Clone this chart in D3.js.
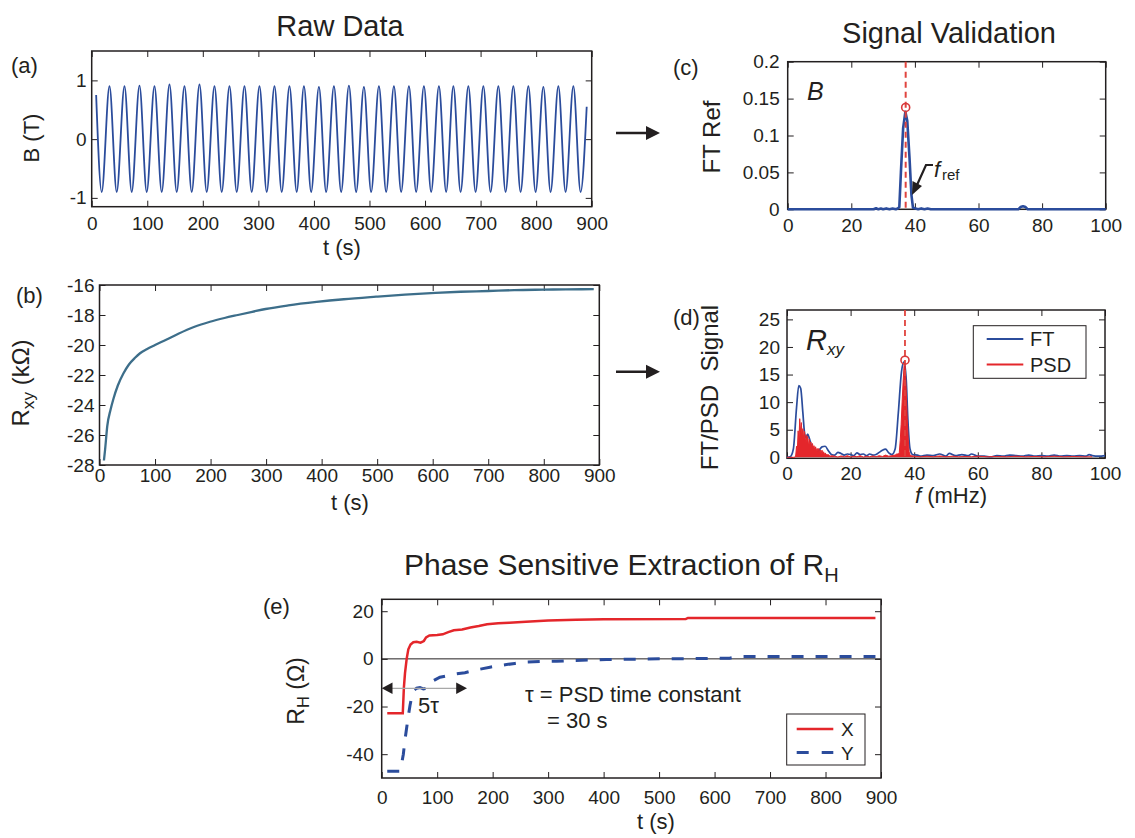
<!DOCTYPE html>
<html>
<head>
<meta charset="utf-8">
<script src="https://cdn.jsdelivr.net/npm/d3@7"></script>
<style>
  body { margin: 0; background: #fff; }
  svg text { font-family: "Liberation Sans", Arial, Helvetica, sans-serif; fill: #231f20; }
</style>
</head>
<body>
<div id="chart"></div>
<script>
// (a) B field: extrema of the reference oscillation, t (s) / B (T)
const bTime = [8, 18, 32, 45, 59, 72, 86, 99, 113, 126, 140, 153, 167, 180, 194, 207, 221, 234, 248, 261, 275,
  288, 302, 315, 329, 342, 356, 369, 382, 395, 409, 422, 436, 449, 463, 476, 490, 503, 517, 530, 544, 557, 571,
  584, 598, 611, 625, 638, 651, 664, 678, 691, 705, 718, 732, 745, 759, 772, 786, 799, 813, 826, 840, 853, 867,
  880, 891];
const bField = [0.75, -0.9, 0.9, -0.9, 0.9, -0.9, 0.91, -0.9, 0.9, -0.9, 0.93, -0.9, 0.9, -0.9, 0.93, -0.9, 0.9,
  -0.9, 0.9, -0.9, 0.9, -0.9, 0.9, -0.9, 0.9, -0.9, 0.9, -0.9, 0.9, -0.9, 0.89, -0.9, 0.9, -0.9, 0.91, -0.9, 0.89,
  -0.9, 0.9, -0.9, 0.9, -0.9, 0.9, -0.9, 0.9, -0.9, 0.9, -0.9, 0.9, -0.9, 0.9, -0.9, 0.9, -0.9, 0.9, -0.9, 0.9,
  -0.9, 0.9, -0.9, 0.89, -0.9, 0.9, -0.9, 0.9, -0.9, 0.55];

// (b) Rxy (kOhm)
const rxyTime = [8, 10, 14, 20, 25, 33, 43, 53, 64, 73, 85, 100, 120, 142, 170, 199, 225, 249, 275, 299, 340, 391,
  440, 498, 550, 605, 650, 700, 747, 800, 840, 890];
const rxyVal = [-27.7, -27.0, -25.4, -24.3, -23.6, -22.7, -21.9, -21.3, -20.85, -20.55, -20.28, -20.0, -19.65,
  -19.25, -18.8, -18.45, -18.2, -18.0, -17.79, -17.6, -17.36, -17.13, -16.95, -16.78, -16.64, -16.52, -16.45,
  -16.4, -16.34, -16.31, -16.29, -16.28];

// (c) FT of B (mHz)
const cFreq = [0, 27, 27.8, 28.5, 29.3, 30, 31, 32, 33, 34, 34.6, 35.1, 35.6, 36.3, 37.0, 37.6, 38.3, 38.9, 39.4,
  40.2, 41, 42, 43, 44, 45, 72.5, 73.2, 74, 74.8, 75.5, 100];
const cAmp = [0, 0, 0.0015, 0, 0.001, 0, 0.0012, 0, 0.001, 0, 0.001, 0.003, 0.05, 0.11, 0.132, 0.12, 0.07, 0.02,
  0.002, 0.001, 0, 0.0012, 0, 0.001, 0, 0, 0.003, 0.004, 0.003, 0, 0];
const fRef = 37.1;
const cPeak = 0.138;

// (d) FT and PSD of Rxy
const ftFreq = [0, 1, 2, 3, 3.7, 4.3, 5, 5.5, 6, 6.5, 7, 8, 9, 10, 11, 12, 13, 14, 15, 16, 17, 18, 19, 20, 21, 22,
  23, 24, 25, 26, 27, 28, 29, 30, 31, 32, 33, 34, 35, 36, 36.8, 37.5, 38, 38.7, 39.5, 41, 42, 44, 46, 48, 50, 51,
  53, 55, 57, 58, 60, 62, 64, 66, 68, 70, 72, 74, 76, 78, 80, 82, 84, 86, 88, 90, 92, 94, 95, 96, 98, 100];
const ftAmp = [0, 0.1, 1.5, 9, 13, 12.5, 8, 4.5, 3.5, 4.2, 3.5, 1.5, 1.0, 1.2, 1.9, 2.0, 1.2, 0.5, 0.4, 0.9, 0.7,
  0.4, 0.6, 0.5, 0.3, 0.8, 0.5, 0.6, 0.3, 0.6, 0.4, 0.5, 0.9, 1.3, 1.5, 0.8, 0.5, 1.5, 8, 15.5, 17.3, 14, 7, 1.5,
  0.5, 0.4, 0.2, 0.4, 0.3, 0.6, 0.2, 0.7, 0.3, 0.5, 0.3, 0.6, 0.2, 0.2, 0.1, 0.3, 0.2, 0.4, 0.3, 0.2, 0.4, 0.2, 0.3,
  0.2, 0.4, 0.2, 0.3, 0.2, 0.3, 0.2, 0.5, 0.3, 0.2, 0.3];
const psdFreq = [0, 2.5, 2.75, 3.0, 3.25, 3.5, 3.75, 4.0, 4.25, 4.5, 4.75, 5.0, 5.25, 5.5, 5.75, 6.0, 6.25, 6.5,
  6.75, 7.0, 7.25, 7.5, 7.75, 8.0, 8.25, 8.5, 8.75, 9.0, 9.25, 9.5, 9.75, 10, 10.25, 10.5, 10.75, 11, 11.25, 11.5,
  11.75, 12, 12.5, 13, 13.5, 14, 15, 16, 17, 18, 19, 20, 21, 22, 23, 24, 25, 26, 27, 28, 29, 30, 31, 32, 33, 34,
  34.5, 35, 35.3, 35.6, 35.9, 36.2, 36.5, 36.8, 37.0, 37.2, 37.5, 37.8, 38.1, 38.4, 38.7, 39, 40, 42, 44, 46, 48,
  50, 52, 54, 56, 58, 60, 63, 66, 69, 72, 75, 78, 81, 84, 87, 90, 93, 96, 100];
const psdAmp = [0, 0, 0.4, 2.0, 1.2, 4.8, 3.0, 7.0, 4.5, 6.3, 4.0, 5.2, 3.4, 4.7, 2.6, 4.1, 2.8, 3.8, 2.0, 3.3, 2.2,
  2.8, 1.6, 2.5, 1.7, 2.1, 1.2, 1.9, 1.2, 1.6, 0.9, 1.6, 1.0, 1.3, 0.7, 1.3, 0.8, 1.0, 0.5, 0.8, 0.4, 0.5, 0.2, 0.3,
  0.2, 0.05, 0.25, 0.1, 0.3, 0.05, 0.2, 0.1, 0.3, 0.05, 0.2, 0.1, 0.25, 0.1, 0.3, 0.15, 0.4, 0.2, 0.3, 0.4, 0.6,
  0.6, 0.8, 3, 6, 10, 13.5, 16.5, 17.5, 16, 12, 7, 3.5, 1, 0.4, 0.3, 0.2, 0.1, 0.2, 0.1, 0.25, 0.1, 0.2, 0.1, 0.15,
  0.1, 0.2, 0.1, 0.15, 0.1, 0.2, 0.1, 0.15, 0.1, 0.2, 0.1, 0.15, 0.1, 0.1];
const dPeak = 17.6;

// (e) phase sensitive extraction of RH (Ohm)
const xTime = [10, 38, 40, 42, 45, 48, 52, 57, 63, 70, 76, 80, 86, 100, 110, 120, 130, 145, 160, 175, 190, 210, 230,
  260, 300, 350, 400, 548, 552, 890];
const xVal = [-22.8, -22.8, -12, -6, 0, 4, 6, 7, 7.2, 6.8, 7.5, 9, 9.8, 10, 10.3, 11.2, 12, 12.3, 13.2, 13.8, 14.5,
  14.9, 15.2, 15.6, 16.1, 16.4, 16.6, 16.7, 17.2, 17.2];
const yTime = [10, 33, 36, 39, 42, 45, 48, 51, 54, 57, 63, 69, 75, 81, 87, 93, 105, 120, 135, 150, 165, 180, 195,
  210, 225, 240, 255, 285, 315, 345, 375, 405, 435, 500, 560, 627, 645, 700, 890];
const yVal = [-47.2, -47.2, -44, -40, -34, -28.9, -24, -19.6, -16, -13.4, -12.3, -12, -12.6, -12.4, -10.5, -9.2,
  -7.7, -7, -6.3, -5.8, -4.9, -4.2, -3.5, -2.9, -2.4, -1.9, -1.4, -1.1, -1.0, -0.7, -0.5, -0.3, -0.2, 0, 0.1, 0.3,
  1.0, 1.0, 1.0];

const timeTicks = [0, 100, 200, 300, 400, 500, 600, 700, 800, 900];
const freqTicks = [0, 20, 40, 60, 80, 100];

const BLUE = "#2b4c9c", RED = "#e4262b", TEAL = "#3d6e8a", INK = "#231f20";

const svg = d3.select("#chart").append("svg")
  .attr("width", 1135)
  .attr("height", 838);

// matlab style box with inward ticks on all four sides
function frame(p) {
  const g = svg.append("g");
  const x = d3.scaleLinear().domain(p.xDomain).range([p.left, p.right]);
  const y = d3.scaleLinear().domain(p.yDomain).range([p.bottom, p.top]);
  const fmt = d => String(d);
  const axes = [
    [d3.axisBottom(x).tickValues(p.xTicks).tickPadding(p.xPad).tickFormat(fmt), `translate(0,${p.bottom})`],
    [d3.axisTop(x).tickValues(p.xTicks).tickFormat(""), `translate(0,${p.top})`],
    [d3.axisLeft(y).tickValues(p.yTicks).tickPadding(p.yPad).tickFormat(p.yFmt || fmt), `translate(${p.left},0)`],
    [d3.axisRight(y).tickValues(p.yTicks).tickFormat(""), `translate(${p.right},0)`]
  ];
  axes.forEach(([ax, tr]) => {
    g.append("g")
      .attr("transform", tr)
      .call(ax.tickSize(-6))
      .call(a => a.select(".domain").remove())
      .call(a => a.selectAll(".tick line").attr("stroke", INK).attr("stroke-width", 1))
      .call(a => a.selectAll("text").attr("font-size", 19));
  });
  g.append("rect")
    .attr("x", p.left).attr("y", p.top)
    .attr("width", p.right - p.left).attr("height", p.bottom - p.top)
    .attr("fill", "none").attr("stroke", INK).attr("stroke-width", 1.5);
  return { g, x, y };
}

function text(str, x, y, size, anchor = "start", style = "normal") {
  return svg.append("text")
    .attr("x", x).attr("y", y)
    .attr("font-size", size)
    .attr("text-anchor", anchor)
    .attr("font-style", style)
    .text(str);
}

function vlabel(parts, cx, cy, size) {
  const t = svg.append("text")
    .attr("transform", `translate(${cx},${cy}) rotate(-90)`)
    .attr("text-anchor", "middle")
    .attr("dy", "0.35em")
    .attr("font-size", size)
    .style("white-space", "pre");
  parts.forEach(([s, sub]) => {
    t.append("tspan")
      .attr("font-size", sub ? size * 0.72 : size)
      .attr("dy", sub ? 5 : (t.selectAll("tspan").size() > 0 ? -5 : 0))
      .text(s);
  });
  return t;
}

function bigArrow(x0, x1, y) {
  svg.append("line").attr("x1", x0).attr("x2", x1 - 10).attr("y1", y).attr("y2", y)
    .attr("stroke", INK).attr("stroke-width", 2.6);
  svg.append("path").attr("d", `M${x1},${y} L${x1 - 14},${y - 7} L${x1 - 14},${y + 7} Z`).attr("fill", INK);
}

const zip = (a, b) => a.map((v, i) => [v, b[i]]);

// ---------- titles ----------
text("Raw Data", 340, 36, 29, "middle");
text("Signal Validation", 949, 43, 29, "middle");
const titleE = text("Phase Sensitive Extraction of R", 404, 575, 30);
titleE.append("tspan").attr("font-size", 20).attr("dy", 7).text("H");

// ---------- (a) ----------
{
  const { g, x, y } = frame({ left: 91.7, right: 591.7, top: 51, bottom: 206.7,
    xDomain: [0, 900], yDomain: [-1.15, 1.5], xTicks: timeTicks, yTicks: [-1, 0, 1], xPad: 10, yPad: 5 });
  g.append("path")
    .datum(zip(bTime, bField))
    .attr("fill", "none").attr("stroke", BLUE).attr("stroke-width", 1.8)
    .attr("d", d3.line().x(d => x(d[0])).y(d => y(d[1])).curve(d3.curveMonotoneX));
  text("(a)", 11, 73, 22);
  vlabel([["B (T)", false]], 44, 138, 22);
  text("t (s)", 342, 255, 22, "middle");
}

// ---------- (b) ----------
{
  const { g, x, y } = frame({ left: 99.5, right: 599.3, top: 285, bottom: 465,
    xDomain: [0, 900], yDomain: [-28, -16], xTicks: timeTicks, yTicks: [-28, -26, -24, -22, -20, -18, -16],
    xPad: 4, yPad: 5 });
  g.append("path")
    .datum(zip(rxyTime, rxyVal))
    .attr("fill", "none").attr("stroke", TEAL).attr("stroke-width", 2.3)
    .attr("d", d3.line().x(d => x(d[0])).y(d => y(d[1])).curve(d3.curveMonotoneX));
  text("(b)", 16, 303, 22);
  vlabel([["R", false], ["xy", true], [" (k\u03A9)", false]], 34, 383, 24);
  text("t (s)", 350, 510, 22, "middle");
}

// ---------- (c) ----------
{
  const { g, x, y } = frame({ left: 787.7, right: 1105.7, top: 61.7, bottom: 209.3,
    xDomain: [0, 100], yDomain: [0, 0.2], xTicks: freqTicks, yTicks: [0, 0.05, 0.1, 0.15, 0.2],
    xPad: 9, yPad: 8 });
  g.append("path")
    .datum(zip(cFreq, cAmp))
    .attr("fill", "none").attr("stroke", BLUE).attr("stroke-width", 2.6).attr("stroke-linejoin", "round")
    .attr("d", d3.line().x(d => x(d[0])).y(d => y(d[1])));
  g.append("line")
    .attr("x1", x(fRef)).attr("x2", x(fRef)).attr("y1", y(0.2)).attr("y2", y(0))
    .attr("stroke", "#e0443e").attr("stroke-width", 2).attr("stroke-dasharray", "6,4");
  g.append("circle").attr("cx", x(fRef)).attr("cy", y(cPeak)).attr("r", 4)
    .attr("fill", "none").attr("stroke", "#d8383a").attr("stroke-width", 1.6);
  text("B", 807, 100, 25, "start", "italic");
  text("f", 934, 177, 22, "start", "italic");
  text("ref", 942, 180, 15);
  // pointer to f_ref
  svg.append("path").attr("d", "M933,165 L926,165 L917,185")
    .attr("fill", "none").attr("stroke", INK).attr("stroke-width", 2.2);
  svg.append("path").attr("d", "M912,195 L912.5,181 L922,186 Z").attr("fill", INK);
  text("(c)", 673, 75, 22);
  vlabel([["FT Ref", false]], 725, 137, 24);
}

// ---------- (d) ----------
{
  const { g, x, y } = frame({ left: 787, right: 1105, top: 310, bottom: 458.3,
    xDomain: [0, 100], yDomain: [-0.18, 26.7], xTicks: freqTicks, yTicks: [0, 5, 10, 15, 20, 25],
    xPad: 8, yPad: 7 });
  g.append("path")
    .datum(zip(ftFreq, ftAmp))
    .attr("fill", "none").attr("stroke", BLUE).attr("stroke-width", 1.7)
    .attr("d", d3.line().x(d => x(d[0])).y(d => y(d[1])).curve(d3.curveMonotoneX));
  g.append("path")
    .datum(zip(psdFreq, psdAmp))
    .attr("fill", RED).attr("stroke", RED).attr("stroke-width", 1)
    .attr("d", d3.area().x(d => x(d[0])).y0(y(0)).y1(d => y(d[1])));
  g.append("line")
    .attr("x1", x(fRef)).attr("x2", x(fRef)).attr("y1", y(26.7)).attr("y2", y(0))
    .attr("stroke", "#e0443e").attr("stroke-width", 1.8).attr("stroke-dasharray", "6,4");
  g.append("circle").attr("cx", x(fRef)).attr("cy", y(dPeak)).attr("r", 4)
    .attr("fill", "none").attr("stroke", "#d8383a").attr("stroke-width", 1.6);
  text("R", 806, 350, 29, "start", "italic");
  text("xy", 827, 355, 17, "start", "italic");
  // legend
  const lg = svg.append("g");
  lg.append("rect").attr("x", 973.3).attr("y", 325.7).attr("width", 112.7).attr("height", 52.6)
    .attr("fill", "#fff").attr("stroke", INK).attr("stroke-width", 1);
  lg.append("line").attr("x1", 986.7).attr("x2", 1023.3).attr("y1", 339).attr("y2", 339)
    .attr("stroke", BLUE).attr("stroke-width", 2);
  lg.append("line").attr("x1", 986.7).attr("x2", 1023.3).attr("y1", 364.5).attr("y2", 364.5)
    .attr("stroke", RED).attr("stroke-width", 2);
  text("FT", 1030, 346, 20);
  text("PSD", 1030, 371.5, 20);
  text("(d)", 673, 325, 22);
  vlabel([["FT/PSD  Signal", false]], 723, 387.5, 24);
  const fl = text("", 951, 503, 22, "middle").style("white-space", "pre");
  fl.append("tspan").attr("font-style", "italic").text("f");
  fl.append("tspan").text(" (mHz)");
}

// ---------- (e) ----------
{
  const { g, x, y } = frame({ left: 381.7, right: 881, top: 599.3, bottom: 778,
    xDomain: [0, 900], yDomain: [-50, 25], xTicks: timeTicks, yTicks: [-40, -20, 0, 20],
    xPad: 13, yPad: 8 });
  g.append("line").attr("x1", x(0)).attr("x2", x(900)).attr("y1", y(0)).attr("y2", y(0))
    .attr("stroke", INK).attr("stroke-width", 1);
  g.append("path")
    .datum(zip(yTime, yVal))
    .attr("fill", "none").attr("stroke", BLUE).attr("stroke-width", 3).attr("stroke-dasharray", "12,12")
    .attr("d", d3.line().x(d => x(d[0])).y(d => y(d[1])));
  g.append("path")
    .datum(zip(xTime, xVal))
    .attr("fill", "none").attr("stroke", RED).attr("stroke-width", 2.5)
    .attr("d", d3.line().x(d => x(d[0])).y(d => y(d[1])));
  // 5 tau marker
  svg.append("line").attr("x1", 390).attr("x2", 458).attr("y1", 688.3).attr("y2", 688.3)
    .attr("stroke", "#a8a8a8").attr("stroke-width", 1.2);
  svg.append("path").attr("d", "M381.7,688.3 L392.5,682.5 L392.5,694.1 Z").attr("fill", INK);
  svg.append("path").attr("d", "M467,688.3 L456.2,682.5 L456.2,694.1 Z").attr("fill", INK);
  text("5\u03C4", 418, 713, 22);
  text("\u03C4 = PSD time constant", 525, 702, 22);
  text("= 30 s", 547, 728, 22);
  // legend
  const lg = svg.append("g");
  lg.append("rect").attr("x", 786.7).attr("y", 714).attr("width", 78.3).attr("height", 51)
    .attr("fill", "#fff").attr("stroke", INK).attr("stroke-width", 1);
  lg.append("line").attr("x1", 796.7).attr("x2", 833.3).attr("y1", 729).attr("y2", 729)
    .attr("stroke", RED).attr("stroke-width", 2.5);
  lg.append("line").attr("x1", 796.7).attr("x2", 833.3).attr("y1", 752.5).attr("y2", 752.5)
    .attr("stroke", BLUE).attr("stroke-width", 3).attr("stroke-dasharray", "12,13");
  text("X", 841, 736, 19);
  text("Y", 841, 759.5, 19);
  text("(e)", 263, 614, 22);
  vlabel([["R", false], ["H", true], [" (\u03A9)", false]], 309, 691, 23);
  text("t (s)", 656, 829, 22, "middle");
}

// arrows between columns
bigArrow(616, 660, 133);
bigArrow(616, 660, 371.7);
</script>
</body>
</html>
